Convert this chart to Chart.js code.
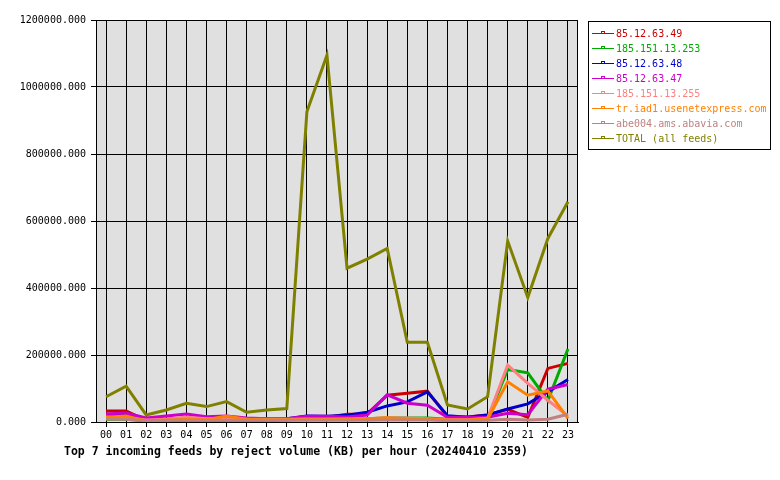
<!DOCTYPE html>
<html lang="en">
<head>
  <meta charset="UTF-8" />
  <title>Top 7 incoming feeds by reject volume</title>
  <script src="https://cdn.jsdelivr.net/npm/chart.js"></script>
  <style>
    body {
      margin: 0;
      background: #ffffff;
    }
    canvas {
      display: block;
    }
  </style>
</head>
<body>
  <canvas id="chartFeeds" width="780" height="480"></canvas>

  <script>
    // hours of the day
    const hours = ['00','01','02','03','04','05','06','07','08','09','10','11',
                   '12','13','14','15','16','17','18','19','20','21','22','23'];

    // feed names and reject volume (KB) per hour
    const feedNames = ['85.12.63.49', '185.151.13.253', '85.12.63.48', '85.12.63.47',
                       '185.151.13.255', 'tr.iad1.usenetexpress.com', 'abe004.ams.abavia.com',
                       'TOTAL (all feeds)'];
    const feed4963 = [33000,33000,5000,6000,8000,7000,8000,6000,7000,8000,12000,14000,
                      23000,24000,80000,86000,92000,16000,15000,21000,38000,14000,160000,175000];
    const feed13253 = [8000,8000,3000,4000,5000,4000,5000,4000,4000,6000,8000,8000,
                       9000,10000,12000,12000,12000,8000,7000,10000,157000,147000,64000,218000];
    const feed4863 = [22000,20000,5000,8000,12000,10000,12000,8000,9000,10000,18000,17000,
                      20000,29000,48000,60000,90000,19000,14000,21000,39000,54000,90000,127000];
    const feed4763 = [24000,27000,12000,18000,24000,16000,18000,12000,10000,10000,17000,17000,
                      15000,21000,81000,56000,50000,14000,14000,14000,26000,22000,98000,112000];
    const feed13255 = [15000,13000,6000,8000,14000,10000,10000,8000,8000,8000,9000,9000,
                       9000,10000,12000,12000,10000,7000,7000,11000,170000,115000,65000,18000];
    const feedUsenet = [14000,18000,3000,6000,8000,7000,18000,8000,7000,7000,7000,7000,
                        8000,10000,13000,10000,8000,6000,6000,9000,120000,80000,93000,11000];
    const feedAbavia = [9000,8000,4000,5000,5000,5000,5000,5000,5000,5000,5000,5000,
                        5000,5000,6000,6000,6000,4000,4000,5000,8000,6000,8000,23000];
    const feedTotal = [75500,107000,21000,36000,56000,46000,61000,29000,36000,40000,926000,1095000,
                       459000,486000,518000,238000,238000,51000,39000,75500,540000,372000,548000,657600];

    const feedColors = ['#cc0000', '#00aa00', '#0000cc', '#cc00cc',
                        '#ff8080', '#ff8000', '#c08080', '#808000'];
    const yTicks = [0, 200000, 400000, 600000, 800000, 1000000, 1200000];

    const allFeeds = [feed4963, feed13253, feed4863, feed4763, feed13255, feedUsenet, feedAbavia, feedTotal];
    const mono = '"DejaVu Sans Mono", "Liberation Mono", monospace';

    // grey plot background, frame, legend box and title
    const decorPlugin = {
      id: 'decor',
      beforeDraw(chart) {
        const { ctx, chartArea: a } = chart;
        ctx.save();
        ctx.fillStyle = '#e0e0e0';
        ctx.fillRect(a.left, a.top, a.right - a.left, a.bottom - a.top);
        ctx.restore();
      },
      afterDraw(chart) {
        const { ctx, chartArea: a } = chart;
        ctx.save();
        ctx.strokeStyle = '#000';
        ctx.lineWidth = 1;
        ctx.strokeRect(a.left + 0.5, a.top + 0.5, a.right - a.left - 1, a.bottom - a.top);

        // legend
        ctx.strokeRect(588.5, 21.5, 182, 128);
        ctx.font = '10px ' + mono;
        ctx.textBaseline = 'middle';
        ctx.textAlign = 'left';
        chart.data.datasets.forEach((ds, i) => {
          const y = 33.5 + i * 15;
          ctx.strokeStyle = ds.borderColor;
          ctx.beginPath();
          ctx.moveTo(592, y);
          ctx.lineTo(614, y);
          ctx.stroke();
          ctx.strokeRect(601.5, y - 2, 3, 2);
          ctx.fillStyle = ds.borderColor;
          ctx.fillText(ds.label, 616, y + 0.5);
        });

        // title under the axis
        ctx.fillStyle = '#000';
        ctx.font = 'bold 11.5px ' + mono;
        ctx.fillText('Top 7 incoming feeds by reject volume (KB) per hour (20240410 2359)', 64, 452);
        ctx.restore();
      }
    };

    new Chart(document.getElementById('chartFeeds'), {
      type: 'line',
      data: {
        labels: hours,
        datasets: feedNames.map((name, i) => ({
          label: name,
          data: allFeeds[i],
          borderColor: feedColors[i],
          backgroundColor: feedColors[i],
          borderWidth: 3,
          pointRadius: 0,
          tension: 0,
          fill: false,
          order: feedNames.length - 1 - i
        }))
      },
      options: {
        responsive: false,
        animation: false,
        layout: { padding: { top: 20, right: 202, left: 0, bottom: 0 } },
        plugins: {
          legend: { display: false },
          tooltip: { enabled: false }
        },
        scales: {
          x: {
            type: 'category',
            offset: true,
            grid: { offset: false, color: '#000', lineWidth: 1, tickLength: 5 },
            border: { color: '#000' },
            ticks: {
              color: '#000',
              font: { family: mono, size: 10 },
              padding: 2,
              maxRotation: 0,
              autoSkip: false
            },
            afterFit(scale) { scale.height = 58; }
          },
          y: {
            min: 0,
            max: 1200000,
            afterBuildTicks(scale) { scale.ticks = yTicks.map(v => ({ value: v })); },
            grid: { color: '#000', lineWidth: 1, tickLength: 5 },
            border: { color: '#000' },
            ticks: {
              color: '#000',
              font: { family: mono, size: 10 },
              padding: 5,
              callback: value => Number(value).toFixed(3)
            },
            afterFit(scale) { scale.width = 96; }
          }
        }
      },
      plugins: [decorPlugin]
    });
  </script>
</body>
</html>
